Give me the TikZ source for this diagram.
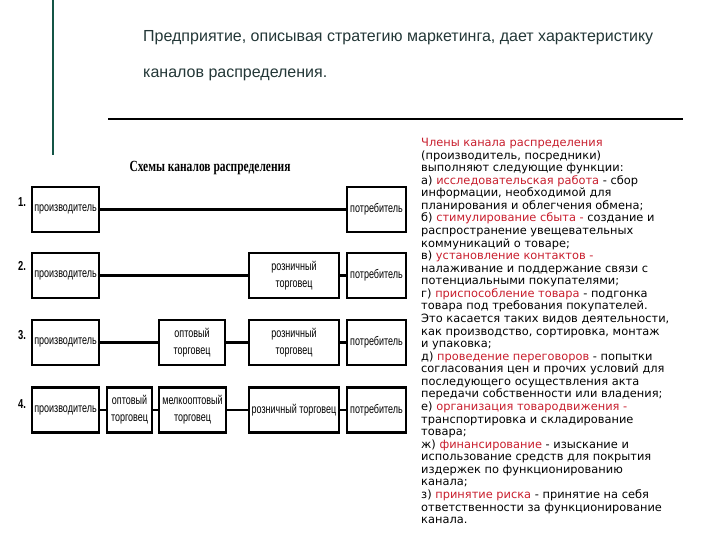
\documentclass[tikz,border=0pt]{standalone}
\usepackage{fontspec}
\setmainfont{Liberation Sans}
\newfontfamily\narrowfont[FakeStretch=0.72]{Liberation Sans}
\newfontfamily\titlefont[FakeStretch=0.74]{Liberation Serif}
\newfontfamily\verdfont{DejaVu Sans}
\usepackage{xcolor}
\definecolor{chTeal}{RGB}{20,85,70}
\definecolor{chHead}{RGB}{35,55,55}
\definecolor{chRed}{RGB}{200,30,45}
\usetikzlibrary{positioning}
\newcommand{\hl}[1]{\textcolor{chRed}{#1}}

\begin{document}
\begin{tikzpicture}[x=1pt,y=-1pt,
  bx/.style={draw,line width=2.2pt,minimum height=45pt,inner sep=1pt,align=center,
    font=\narrowfont\fontsize{12.5}{17}\selectfont},
  num/.style={font=\narrowfont\fontsize{13}{13}\selectfont\bfseries},
  ln/.style={line width=2.2pt}]
  \useasboundingbox (0,0) rectangle (720,540);
  % top of the slide
  \draw[chTeal,line width=1.5pt] (53,0) -- (53,155);
  \node[anchor=west,inner sep=0pt,text=chHead,font=\fontsize{16}{16}\selectfont] (h1) at (143,38)
    {Предприятие, описывая стратегию маркетинга, дает характеристику};
  \node[anchor=west,inner sep=0pt,text=chHead,font=\fontsize{16}{16}\selectfont] (h2) at (143,75)
    {каналов распределения.};
  \draw[line width=1.2pt] (108,119) -- (683,119);
  \node[font=\titlefont\fontsize{15.5}{15.5}\selectfont\bfseries] (title) at (210,168)
    {Схемы каналов распределения};

  % 1.
  \node[num] (n1) at (22,202) {1.};
  \node[bx,minimum width=67pt] (p1) at (65.5,209.5) {производитель};
  \node[bx,minimum width=59pt] (c1) at (376.5,209.5) {потребитель};
  \draw[ln] (p1) -- (c1);
  % 2.
  \node[num] (n2) at (22,266) {2.};
  \node[bx,minimum width=67pt] (p2) at (65.5,275.5) {производитель};
  \node[bx,minimum width=90pt] (r2) at (294,275.5) {розничный\\торговец};
  \node[bx,minimum width=59pt] (c2) at (376.5,275.5) {потребитель};
  \draw[ln] (p2) -- (r2); \draw[ln] (r2) -- (c2);
  % 3.
  \node[num] (n3) at (22,335) {3.};
  \node[bx,minimum width=67pt] (p3) at (65.5,342.5) {производитель};
  \node[bx,minimum width=66pt] (w3) at (192,342.5) {оптовый\\торговец};
  \node[bx,minimum width=90pt] (r3) at (294,342.5) {розничный\\торговец};
  \node[bx,minimum width=59pt] (c3) at (376.5,342.5) {потребитель};
  \draw[ln] (p3) -- (w3); \draw[ln] (w3) -- (r3); \draw[ln] (r3) -- (c3);
  % 4.
  \node[num] (n4) at (22,404) {4.};
  \node[bx,minimum width=67pt] (p4) at (65.5,410) {производитель};
  \node[bx,minimum width=45pt] (w4) at (129.5,410) {оптовый\\торговец};
  \node[bx,minimum width=67pt] (m4) at (192.5,410) {мелкооптовый\\торговец};
  \node[bx,minimum width=90pt] (r4) at (294,410) {розничный торговец};
  \node[bx,minimum width=59pt] (c4) at (376.5,410) {потребитель};
  \draw[ln] (p4) -- (w4); \draw[ln] (w4) -- (m4); \draw[ln] (m4) -- (r4); \draw[ln] (r4) -- (c4);

  % functions of channel members
  \node[anchor=north west,align=left,inner sep=0pt,
    font=\verdfont\fontsize{11.4}{12.57}\selectfont] (fn) at (421,138)
    {\hl{Члены канала распределения}\\
     (производитель, посредники)\\
     выполняют следующие функции:\\
     а) \hl{исследовательская работа} - сбор\\
     информации, необходимой для\\
     планирования и облегчения обмена;\\
     б) \hl{стимулирование сбыта -} создание и\\
     распространение увещевательных\\
     коммуникаций о товаре;\\
     в) \hl{установление контактов -}\\
     налаживание и поддержание связи с\\
     потенциальными покупателями;\\
     г) \hl{приспособление товара} - подгонка\\
     товара под требования покупателей.\\
     Это касается таких видов деятельности,\\
     как производство, сортировка, монтаж\\
     и упаковка;\\
     д) \hl{проведение переговоров} - попытки\\
     согласования цен и прочих условий для\\
     последующего осуществления акта\\
     передачи собственности или владения;\\
     е) \hl{организация товародвижения -}\\
     транспортировка и складирование\\
     товара;\\
     ж) \hl{финансирование} - изыскание и\\
     использование средств для покрытия\\
     издержек по функционированию\\
     канала;\\
     з) \hl{принятие риска} - принятие на себя\\
     ответственности за функционирование\\
     канала.};
\end{tikzpicture}
\end{document}
